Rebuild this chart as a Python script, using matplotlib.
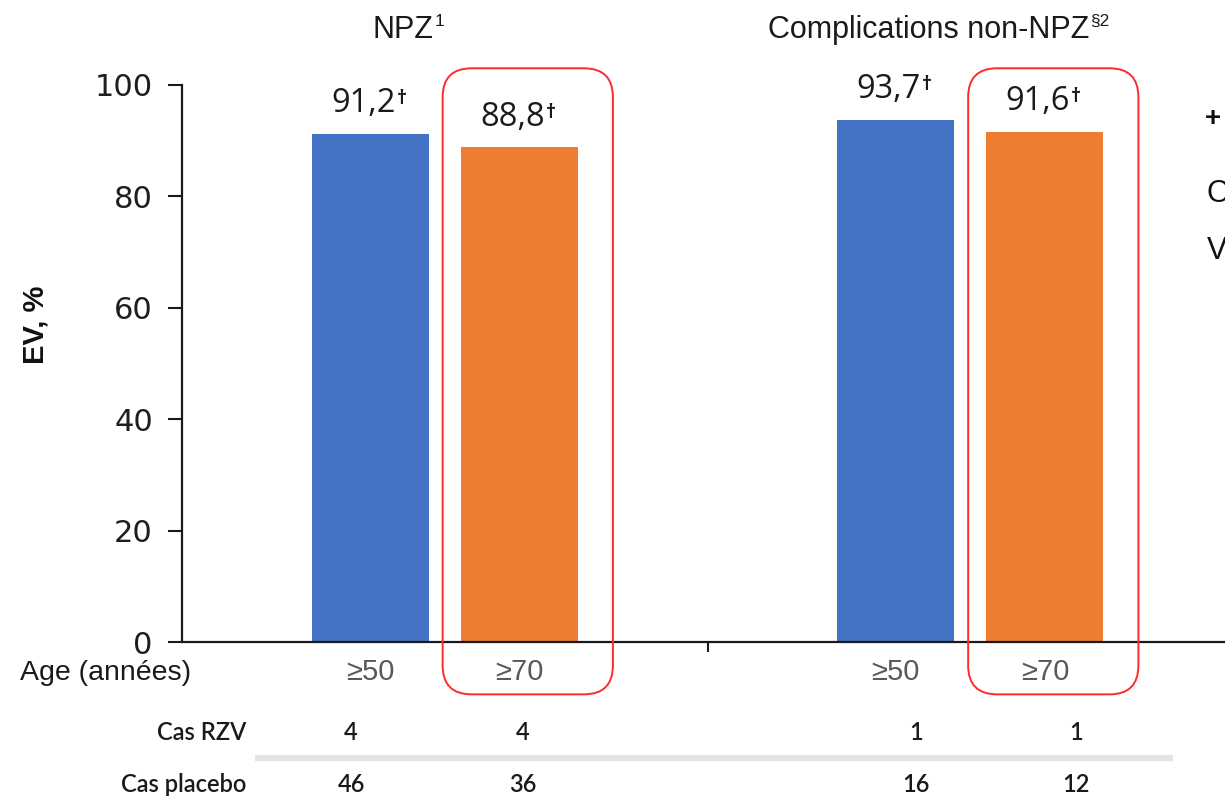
import matplotlib
matplotlib.use("Agg")
import matplotlib.pyplot as plt
from matplotlib.patches import FancyBboxPatch
from matplotlib.transforms import offset_copy

# ---- data -------------------------------------------------------------
groups = ["NPZ", "Complications non-NPZ"]
group_sup = ["1", "§2"]
age_labels = ["≥50", "≥70"]
ev_50 = [91.2, 93.7]          # vaccine efficacy, age >= 50
ev_70 = [88.8, 91.6]          # vaccine efficacy, age >= 70
cas_rzv = [4, 4, 1, 1]        # per column: NPZ>=50, NPZ>=70, non-NPZ>=50, non-NPZ>=70
cas_placebo = [46, 36, 16, 12]
yticks = [0, 20, 40, 60, 80, 100]

# ---- style ------------------------------------------------------------
BLUE = "#4472C4"
ORANGE = "#ED7D31"
RED = "#FF2A2A"
AXCOL = "#1a1a1a"
SANS = ["Liberation Sans", "DejaVu Sans"]
NUMF = ["Open Sans", "DejaVu Sans"]
TABF = ["Lato", "DejaVu Sans"]

fig = plt.figure(figsize=(12.25, 7.98), dpi=100)
ax = fig.add_axes([182 / 1225, 156 / 798, 1051 / 1225, 557 / 798])
ax.set_xlim(-0.5, 1.5)
ax.set_ylim(0, 100)

x = [0, 1]
off = 0.142
bw = 0.223
x50 = [xi - off for xi in x]
x70 = [xi + off for xi in x]
ax.bar(x50, ev_50, width=bw, color=BLUE, zorder=2)
ax.bar(x70, ev_70, width=bw, color=ORANGE, zorder=2)

# axes styling
for s in ("top", "right"):
    ax.spines[s].set_visible(False)
for s in ("left", "bottom"):
    ax.spines[s].set_color(AXCOL)
    ax.spines[s].set_linewidth(1.6)
ax.spines["bottom"].set_bounds(-0.5, 1.6)
ax.set_yticks(yticks)
ax.set_yticklabels([str(t) for t in yticks], family="DejaVu Sans", fontsize=22, color="#1e1e1e")
ax.tick_params(axis="y", length=10, width=1.5, color=AXCOL, pad=11)
ax.set_xticks([0.5])
ax.set_xticklabels([""])
ax.tick_params(axis="x", length=7, width=1.5, color=AXCOL)

fig.text(35 / 1225, 1 - 325 / 798, "EV, %", rotation=90, ha="center", va="center",
         family=SANS, fontsize=21, fontweight="bold", color="#111111")

# value labels with dagger mark
fig.canvas.draw()
renderer = fig.canvas.get_renderer()
for xs, vals in ((x50, ev_50), (x70, ev_70)):
    for xi, v in zip(xs, vals):
        t = ax.text(xi, v + 3.9, f"{v:.1f}".replace(".", ","), ha="center", va="baseline",
                    family=NUMF, fontsize=23.5, color="#1a1a1a",
                    transform=offset_copy(ax.transData, fig=fig, x=-7, y=0, units="dots"))
        bb = t.get_window_extent(renderer)
        fig.text((bb.x1 + 1) / fig.bbox.width, (bb.y1 - 2) / fig.bbox.height, "†",
                 ha="left", va="top", family=NUMF, fontsize=14, fontweight="bold", color="#1a1a1a")

# group titles
title_x = [-0.079, 0.920]
for tx, name, sup in zip(title_x, groups, group_sup):
    t = ax.text(tx, 108.4, name, ha="center", va="baseline", family=SANS, fontsize=22,
                color="#1a1a1a", clip_on=False)
    bb = t.get_window_extent(renderer)
    fig.text((bb.x1 + 1) / fig.bbox.width, (bb.y1 + 1) / fig.bbox.height, sup,
             ha="left", va="top", family=SANS, fontsize=12.5, color="#1a1a1a")

# age row
ax.text(-0.808, -5.5, "Age (années)", ha="left", va="center", family=SANS, fontsize=20.5,
        color="#1a1a1a", clip_on=False)
for xi, lab in zip([x50[0], x70[0], x50[1], x70[1]], age_labels * 2):
    ax.text(xi, -5.3, lab, ha="center", va="center", family=SANS, fontsize=21,
            color="#595959", clip_on=False)

# case table
table_x = [-0.178, 0.149, 0.897, 1.202]
ax.text(-0.378, -16.2, "Cas RZV", ha="right", va="center", family=TABF, fontsize=17,
        fontweight="semibold", color="#1a1a1a", clip_on=False)
ax.text(-0.378, -25.6, "Cas placebo", ha="right", va="center", family=TABF, fontsize=17,
        fontweight="semibold", color="#1a1a1a", clip_on=False)
for tx, a, b in zip(table_x, cas_rzv, cas_placebo):
    ax.text(tx, -16.2, str(a), ha="center", va="center", family=TABF, fontsize=17,
            fontweight="semibold", color="#1a1a1a", clip_on=False)
    ax.text(tx, -25.6, str(b), ha="center", va="center", family=TABF, fontsize=17,
            fontweight="semibold", color="#1a1a1a", clip_on=False)
ax.plot([-0.361, 1.386], [-20.8, -20.8], color="#e3e3e3", lw=4.5, solid_capstyle="butt",
        clip_on=False, zorder=1)

# rounded highlight boxes around the >=70 columns
p0 = ax.transData.transform((0, 0))
px_x = ax.transData.transform((1, 0))[0] - p0[0]
px_y = ax.transData.transform((0, 1))[1] - p0[1]
aspect = px_x / px_y
for xi in x70:
    left, right = xi - 0.146, xi + 0.178
    bottom, top = -9.4, 103.0
    box = FancyBboxPatch((left, bottom), right - left, top - bottom,
                         boxstyle="round,pad=0,rounding_size=0.055",
                         mutation_aspect=aspect, transform=ax.transData,
                         fill=False, edgecolor=RED, linewidth=1.4, clip_on=False, zorder=3)
    ax.add_patch(box)

# side note characters running off the right edge
fig.text(1205 / 1225, 1 - 119 / 798, "+", ha="left", va="center", family=SANS,
         fontsize=20, fontweight="bold", color="#111111")
fig.text(1207 / 1225, 1 - 194 / 798, "O", ha="left", va="center", family=SANS,
         fontsize=22, color="#111111")
fig.text(1207 / 1225, 1 - 251 / 798, "V", ha="left", va="center", family=SANS,
         fontsize=22, color="#111111")

fig.savefig("out.png", dpi=100)
